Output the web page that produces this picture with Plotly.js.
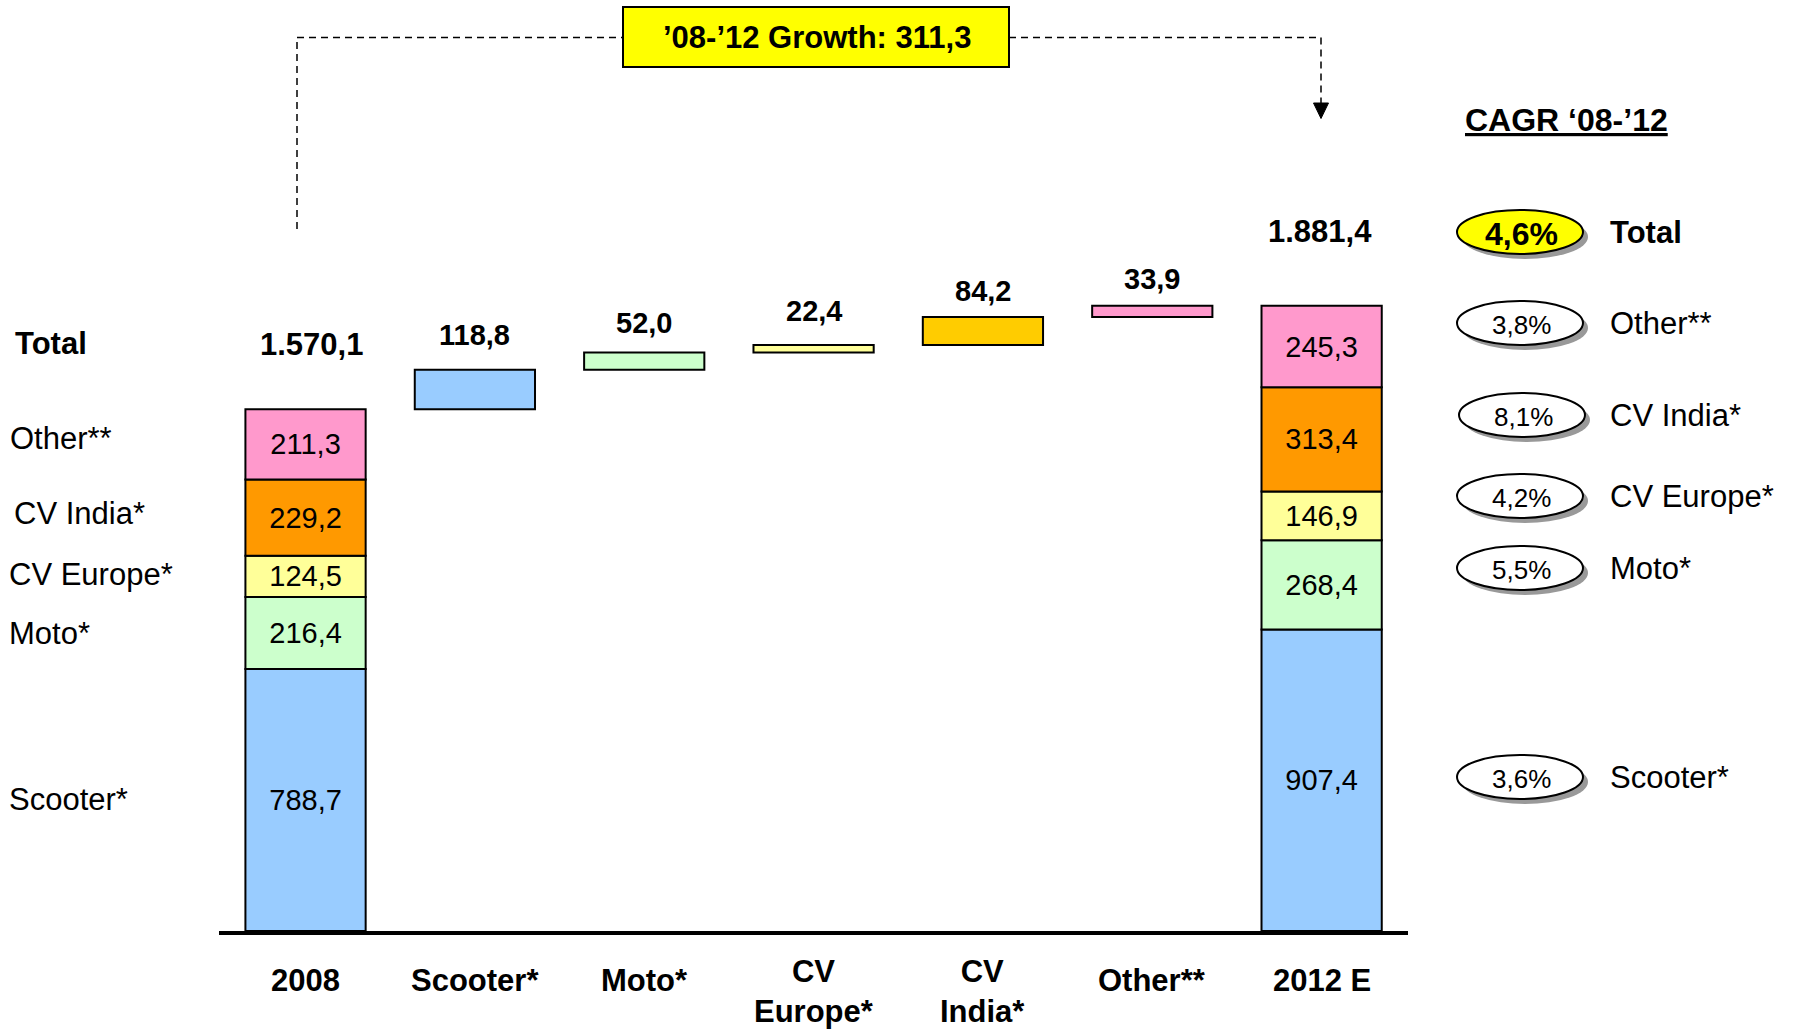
<!DOCTYPE html>
<html>
<head>
<meta charset="utf-8">
<script src="https://cdn.plot.ly/plotly-3.0.1.min.js"></script>
<style>html,body{margin:0;padding:0;background:#fff;}#chart{width:1793px;height:1033px;}</style>
</head>
<body>
<div id="chart"></div>
<script>
// ---------- DATA ----------
const categories = ['2008', 'Scooter*', 'Moto*', 'CV<br>Europe*', 'CV<br>India*', 'Other**', '2012 E'];
const segments = ['Scooter*', 'Moto*', 'CV Europe*', 'CV India*', 'Other**'];
const values2008 = [788.7, 216.4, 124.5, 229.2, 211.3];
const values2012 = [907.4, 268.4, 146.9, 313.4, 245.3];
const deltas = [118.8, 52.0, 22.4, 84.2, 33.9];
const cagrLabels = ['Total', 'Other**', 'CV India*', 'CV Europe*', 'Moto*', 'Scooter*'];
const cagrValues = [4.6, 3.8, 8.1, 4.2, 5.5, 3.6];

// ---------- STYLE ----------
const FONT = 'Liberation Sans, Arial, Helvetica, sans-serif';
const segColors = ['#99CCFF', '#CCFFCC', '#FFFF99', '#FF9900', '#FF99CC'];
const deltaColors = ['#99CCFF', '#CCFFCC', '#FFFF99', '#FFCC00', '#FF99CC'];

const fmt = v => {
  const s = (Math.round(v * 10) / 10).toFixed(1);
  let [i, d] = s.split('.');
  i = i.replace(/\B(?=(\d{3})+(?!\d))/g, '.');
  return i + ',' + d;
};
const sum = a => Math.round(a.reduce((p, c) => p + c, 0) * 10) / 10;
const cumul = (a, start) => { const r = []; let c = start; a.forEach(v => { r.push(c); c += v; }); return r; };

const total2008 = sum(values2008);
const total2012 = sum(values2012);
const growth = Math.round((total2012 - total2008) * 10) / 10;
const cum2008 = cumul(values2008, 0);
const cum2012 = cumul(values2012, 0);
const cumDelta = cumul(deltas, total2008);

// ---------- GEOMETRY (plot area) ----------
const L = 219, R = 385, T = 2, B = 102, WID = 1793, HEI = 1033;
const W = WID - L - R, H = HEI - T - B;
const px = p => (p - L) / W;
const py = p => (T + H - p) / H;
const yMax = H / 0.3323;

// ---------- TRACES ----------
const traces = segments.map((name, k) => ({
  type: 'bar',
  name: name,
  x: [categories[0], categories[k + 1], categories[6]],
  y: [values2008[k], deltas[k], values2012[k]],
  base: [cum2008[k], cumDelta[k], cum2012[k]],
  width: 0.71,
  text: [fmt(values2008[k]), '', fmt(values2012[k])],
  textposition: 'inside',
  insidetextanchor: 'middle',
  constraintext: 'none',
  textangle: 0,
  textfont: {family: FONT, size: 29, color: '#000'},
  marker: {color: [segColors[k], deltaColors[k], segColors[k]], line: {color: '#000', width: 2}},
  hoverinfo: 'skip',
  showlegend: false
}));

// ---------- ANNOTATIONS ----------
// on a category axis, annotation x is given as the category index
const ann = [];
categories.forEach((c, i) => {
  const two = c.indexOf('<br>') >= 0;
  ann.push({x: i, xref: 'x', y: py(two ? 992 : 980), yref: 'paper',
    text: '<b>' + c + '</b>', showarrow: false, xanchor: 'center', yanchor: 'middle',
    font: {family: FONT, size: 31, color: '#000'}});
});
const deltaShift = [35, 30, 34, 26, 27];
deltas.forEach((d, k) => {
  ann.push({x: k + 1, y: cumDelta[k] + d, xref: 'x', yref: 'y', yshift: deltaShift[k],
    text: '<b>' + fmt(d) + '</b>', showarrow: false, yanchor: 'middle',
    font: {family: FONT, size: 29, color: '#000'}});
});
ann.push({x: 0, y: total2008, xref: 'x', yref: 'y', yshift: 65, xshift: 6,
  text: '<b>' + fmt(total2008) + '</b>', showarrow: false, yanchor: 'middle',
  font: {family: FONT, size: 31, color: '#000'}});
ann.push({x: 6, y: total2012, xref: 'x', yref: 'y', yshift: 74, xshift: -2,
  text: '<b>' + fmt(total2012) + '</b>', showarrow: false, yanchor: 'middle',
  font: {family: FONT, size: 31, color: '#000'}});
// left labels
ann.push({x: px(13), y: total2008, xref: 'paper', yref: 'y', yshift: 66,
  text: '<b>Total</b>', showarrow: false, xanchor: 'left', yanchor: 'middle',
  font: {family: FONT, size: 31, color: '#000'}});
const leftX = [7, 7, 7, 11.5, 8];
const leftShift = [0, -1, 2, 4, 6];
segments.forEach((s, k) => {
  ann.push({x: px(leftX[k]), y: cum2008[k] + values2008[k] / 2, xref: 'paper', yref: 'y', yshift: leftShift[k],
    text: s, showarrow: false, xanchor: 'left', yanchor: 'middle',
    font: {family: FONT, size: 31, color: '#000'}});
});
ann.push({x: px(817), y: py(38), xref: 'paper', yref: 'paper',
  text: '<b>\u201908-\u201912 Growth: ' + fmt(growth) + '</b>', showarrow: false,
  xanchor: 'center', yanchor: 'middle', font: {family: FONT, size: 31, color: '#000'}});
ann.push({x: px(1566), y: py(120), xref: 'paper', yref: 'paper',
  text: '<b><u>CAGR \u201808-\u201912</u></b>', showarrow: false,
  xanchor: 'center', yanchor: 'middle', font: {family: FONT, size: 32, color: '#000'}});

// ---------- SHAPES ----------
const shapes = [];
const dashLine = {color: '#000', width: 1.5, dash: '7px,5px'};
shapes.push({type: 'line', xref: 'paper', yref: 'paper', x0: px(297), x1: px(297), y0: py(229), y1: py(37.5), line: dashLine});
shapes.push({type: 'line', xref: 'paper', yref: 'paper', x0: px(297), x1: px(623), y0: py(37.5), y1: py(37.5), line: dashLine});
shapes.push({type: 'line', xref: 'paper', yref: 'paper', x0: px(1009), x1: px(1321), y0: py(37.5), y1: py(37.5), line: dashLine});
shapes.push({type: 'line', xref: 'paper', yref: 'paper', x0: px(1321), x1: px(1321), y0: py(37.5), y1: py(104), line: dashLine});
shapes.push({type: 'path', xref: 'paper', yref: 'paper',
  path: `M ${px(1313.5)},${py(103)} L ${px(1328.5)},${py(103)} L ${px(1321)},${py(118.5)} Z`,
  fillcolor: '#000', line: {color: '#000', width: 1}});
shapes.push({type: 'rect', xref: 'paper', yref: 'paper', x0: px(623), x1: px(1009), y0: py(67), y1: py(7),
  fillcolor: '#FFFF00', line: {color: '#000', width: 2}, layer: 'below'});

const ellY = [232, 323, 415, 496, 568, 777];
const ellX = [1520, 1520, 1522, 1520, 1520, 1520];
const rx = 63, ry = 22;
cagrLabels.forEach((lab, k) => {
  const cx = ellX[k], cy = ellY[k];
  shapes.push({type: 'circle', xref: 'paper', yref: 'paper', x0: px(cx - rx + 5), x1: px(cx + rx + 5), y0: py(cy + ry + 5), y1: py(cy - ry + 5),
    fillcolor: '#999999', line: {width: 0}});
  shapes.push({type: 'circle', xref: 'paper', yref: 'paper', x0: px(cx - rx), x1: px(cx + rx), y0: py(cy + ry), y1: py(cy - ry),
    fillcolor: k === 0 ? '#FFFF00' : '#FFFFFF', line: {color: '#000', width: 2}});
  const pct = cagrValues[k].toFixed(1).replace('.', ',') + '%';
  ann.push({x: px(cx + 1), y: py(cy + 2), xref: 'paper', yref: 'paper',
    text: k === 0 ? '<b>' + pct + '</b>' : pct, showarrow: false, xanchor: 'center', yanchor: 'middle',
    font: {family: FONT, size: k === 0 ? 32 : 26, color: '#000'}});
  ann.push({x: px(1608), y: py(cy), xref: 'paper', yref: 'paper',
    text: k === 0 ? '<b>' + lab + '</b>' : lab, showarrow: false, xanchor: 'left', yanchor: 'middle',
    font: {family: FONT, size: 31, color: '#000'}});
});

const layout = {
  width: WID, height: HEI,
  margin: {l: L, r: R, t: T, b: B, pad: 0},
  paper_bgcolor: '#fff', plot_bgcolor: '#fff',
  barmode: 'overlay',
  showlegend: false,
  font: {family: FONT, color: '#000'},
  xaxis: {
    type: 'category', categoryorder: 'array', categoryarray: categories,
    range: [-0.511, 6.51], showline: true, linecolor: '#000', linewidth: 4,
    ticks: '', showgrid: false, zeroline: false, fixedrange: true,
    showticklabels: false
  },
  yaxis: {range: [0, yMax], visible: false, showgrid: false, zeroline: false, fixedrange: true},
  annotations: ann,
  shapes: shapes
};

Plotly.newPlot('chart', traces, layout, {displayModeBar: false, staticPlot: true});
</script>
</body>
</html>
